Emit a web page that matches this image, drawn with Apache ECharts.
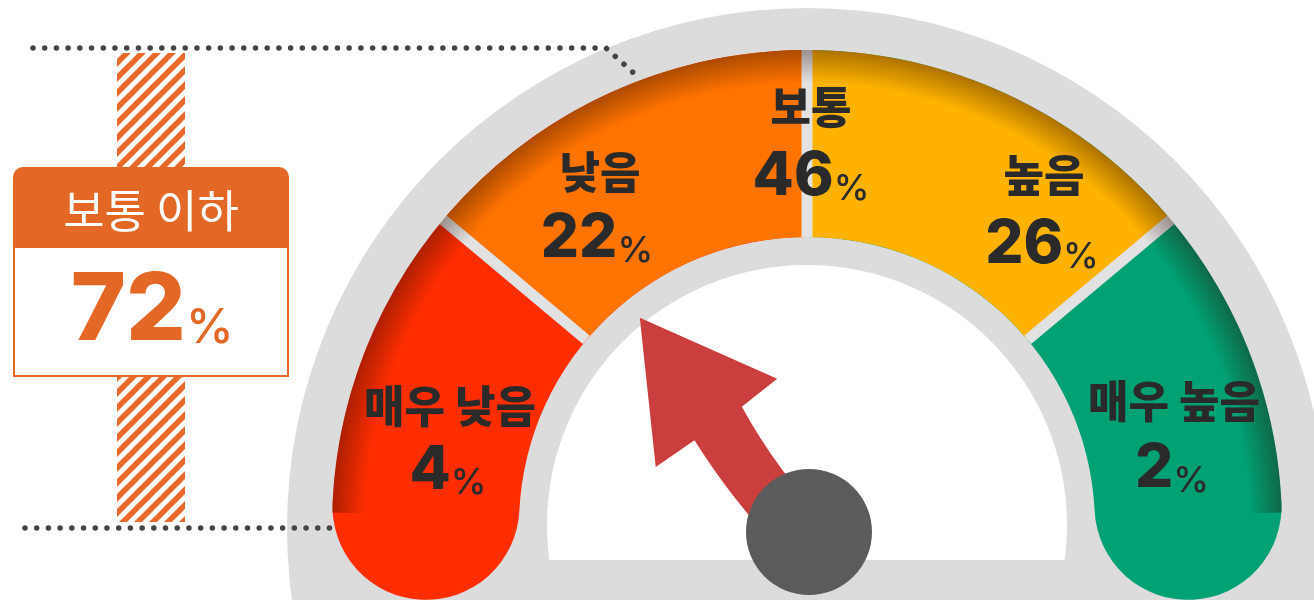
<!DOCTYPE html>
<html>
<head>
<meta charset="utf-8">
<script src="https://cdn.jsdelivr.net/npm/echarts@6/dist/echarts.min.js"></script>
<style>
  html, body { margin: 0; padding: 0; background: #fff; }
  #chart { width: 1314px; height: 600px; }
</style>
</head>
<body>
<div id="chart"></div>
<script>
// 응답 분포 (%)
const categories = ['매우 낮음', '낮음', '보통', '높음', '매우 높음'];
const shares = [4, 22, 46, 26, 2];
const summaryName = '보통 이하';
const summaryCount = 3; // 매우 낮음 ~ 보통
const needleAt = 51.7; // 바늘 위치 (왼쪽 끝에서 잰 각도)

// 레이아웃
const center = [807, 525];
const outerR = 475;
const bandW = 187;
const nameOffsets = [[-357, -119], [-207, -353], [4, -418], [237, -350], [367, -124]];
const valueOffsets = [[-359, -55], [-210, -287], [4, -349], [235, -281], [365, -57]];

const FONT_KR = 'Noto Sans CJK KR, sans-serif';
const FONT_NUM = 'Inter, Roboto, Liberation Sans, sans-serif';
const TEXT = '#2a2a2a';
const ORANGE_BOX = '#e36826';

const summaryValue = shares.slice(0, summaryCount).reduce((a, b) => a + b, 0);

// 빗금 패턴
function hatch () {
  const c = document.createElement('canvas');
  c.width = 15;
  c.height = 15;
  const g = c.getContext('2d');
  g.strokeStyle = '#e8692a';
  g.lineWidth = 5.5;
  for (let k = -1; k <= 1; k++) {
    g.beginPath();
    g.moveTo(k * 15 - 2, 17);
    g.lineTo(k * 15 + 17, -2);
    g.stroke();
  }
  return c;
}

const hidden = {
  splitLine: { show: false },
  axisTick: { show: false },
  axisLabel: { show: false },
  pointer: { show: false },
  anchor: { show: false },
  title: { show: false },
  detail: { show: false }
};

const chart = echarts.init(document.getElementById('chart'));
chart.setOption({
  animation: false,
  graphic: [
    // 회색 바탕, 흰 안쪽
    { type: 'circle', z: 0, shape: { cx: center[0], cy: center[1] + 3, r: 520 }, style: { fill: '#dcdcdc' } },
    { type: 'circle', z: 0, shape: { cx: center[0], cy: center[1], r: 260 }, style: { fill: '#fff' } },
    { type: 'rect', z: 0, shape: { x: 530, y: 560, width: 555, height: 40 }, style: { fill: '#dcdcdc' } },
    // 왼쪽 요약 상자
    { type: 'rect', z: 10, shape: { x: 117, y: 53, width: 68, height: 469 }, style: { fill: { image: hatch(), repeat: 'repeat' } } },
    { type: 'polyline', z: 10, shape: { points: [[33, 48], [606, 48], [637, 76]] },
      style: { stroke: '#444', lineWidth: 5.5, lineCap: 'round', lineDash: [0.01, 11.7], fill: null } },
    { type: 'polyline', z: 10, shape: { points: [[25, 528], [333, 528]] },
      style: { stroke: '#444', lineWidth: 5.5, lineCap: 'round', lineDash: [0.01, 11.7], fill: null } },
    { type: 'rect', z: 11, shape: { x: 13, y: 167, width: 276, height: 80, r: [10, 10, 0, 0] }, style: { fill: ORANGE_BOX } },
    { type: 'rect', z: 11, shape: { x: 14, y: 247, width: 274, height: 129 }, style: { fill: '#fff', stroke: ORANGE_BOX, lineWidth: 2 } },
    { type: 'text', z: 12, x: 151, y: 211,
      style: { text: summaryName, fill: '#fff', font: '400 45px ' + FONT_KR, align: 'center', verticalAlign: 'middle' } },
    { type: 'text', z: 12, x: 186, y: 312,
      style: { text: String(summaryValue), fill: ORANGE_BOX, font: '800 94px ' + FONT_NUM, align: 'right', verticalAlign: 'middle' } },
    { type: 'text', z: 12, x: 186, y: 329,
      style: { text: '%', fill: ORANGE_BOX, font: '500 48px ' + FONT_NUM, align: 'left', verticalAlign: 'middle' } }
  ],
  series: [
    // 양 끝 (둥근 끝)
    Object.assign({}, hidden, {
      type: 'gauge', z: 2, center, radius: outerR,
      startAngle: 177.2, endAngle: 2.8,
      axisLine: { roundCap: true, lineStyle: { width: bandW, color: [[0.5, '#ff2d00'], [1, '#00a274']] } },
      data: []
    }),
    // 가운데 두 칸
    Object.assign({}, hidden, {
      type: 'gauge', z: 3, center, radius: outerR,
      startAngle: 140, endAngle: 40,
      axisLine: { lineStyle: { width: bandW, color: [[0.5, '#ff7300'], [1, '#ffb300']] } },
      data: []
    }),
    // 칸 사이 구분선
    Object.assign({}, hidden, {
      type: 'gauge', z: 4, center, radius: outerR,
      startAngle: 140, endAngle: 40, min: 0, max: 2, splitNumber: 2,
      axisLine: { show: false, lineStyle: { width: 0 } },
      splitLine: { show: true, length: bandW, distance: 0, lineStyle: { color: '#e2e2e2', width: 11 } },
      data: []
    }),
    // 바깥쪽 그림자
    Object.assign({}, hidden, {
      type: 'gauge', z: 5, center, radius: outerR,
      startAngle: 178.5, endAngle: 1.5,
      axisLine: { lineStyle: { width: 34, color: [[1, new echarts.graphic.RadialGradient(center[0], center[1], outerR, [
        { offset: 0.93, color: 'rgba(40,10,0,0)' },
        { offset: 1, color: 'rgba(40,10,0,0.38)' }
      ], true)]] } },
      data: []
    }),
    // 이름과 값
    Object.assign({}, hidden, {
      type: 'gauge', z: 6, center, radius: outerR, min: 0, max: 100,
      axisLine: { show: false },
      title: { show: true, color: TEXT, fontFamily: FONT_KR, fontWeight: 900, fontSize: 44 },
      detail: {
        show: true, padding: 0, width: 160, lineHeight: 62,
        formatter: v => '{v|' + v + '}{p|%}',
        rich: {
          v: { fontFamily: FONT_NUM, fontWeight: 800, fontSize: 60, lineHeight: 62, color: TEXT, verticalAlign: 'bottom' },
          p: { fontFamily: FONT_NUM, fontWeight: 500, fontSize: 36, lineHeight: 45, color: TEXT, verticalAlign: 'bottom' }
        }
      },
      data: categories.map((name, i) => ({
        name,
        value: shares[i],
        title: { offsetCenter: nameOffsets[i] },
        detail: { offsetCenter: valueOffsets[i] }
      }))
    }),
    // 바늘
    Object.assign({}, hidden, {
      type: 'gauge', z: 7, center: [809, 532], radius: 300,
      startAngle: 180, endAngle: 0, min: 0, max: 180,
      axisLine: { show: false },
      pointer: {
        show: true,
        icon: 'path://M80 0 L150 133 L105 133 Q93 205 100 273 L47 273 Q39 205 47 130 L0 127 Z',
        length: 273, width: 150, offsetCenter: [-5, 0],
        itemStyle: { color: '#cb3e3e' }
      },
      anchor: { show: true, showAbove: true, size: 126, itemStyle: { color: '#5b5b5b' } },
      data: [{ value: needleAt }]
    })
  ]
});
</script>
</body>
</html>
